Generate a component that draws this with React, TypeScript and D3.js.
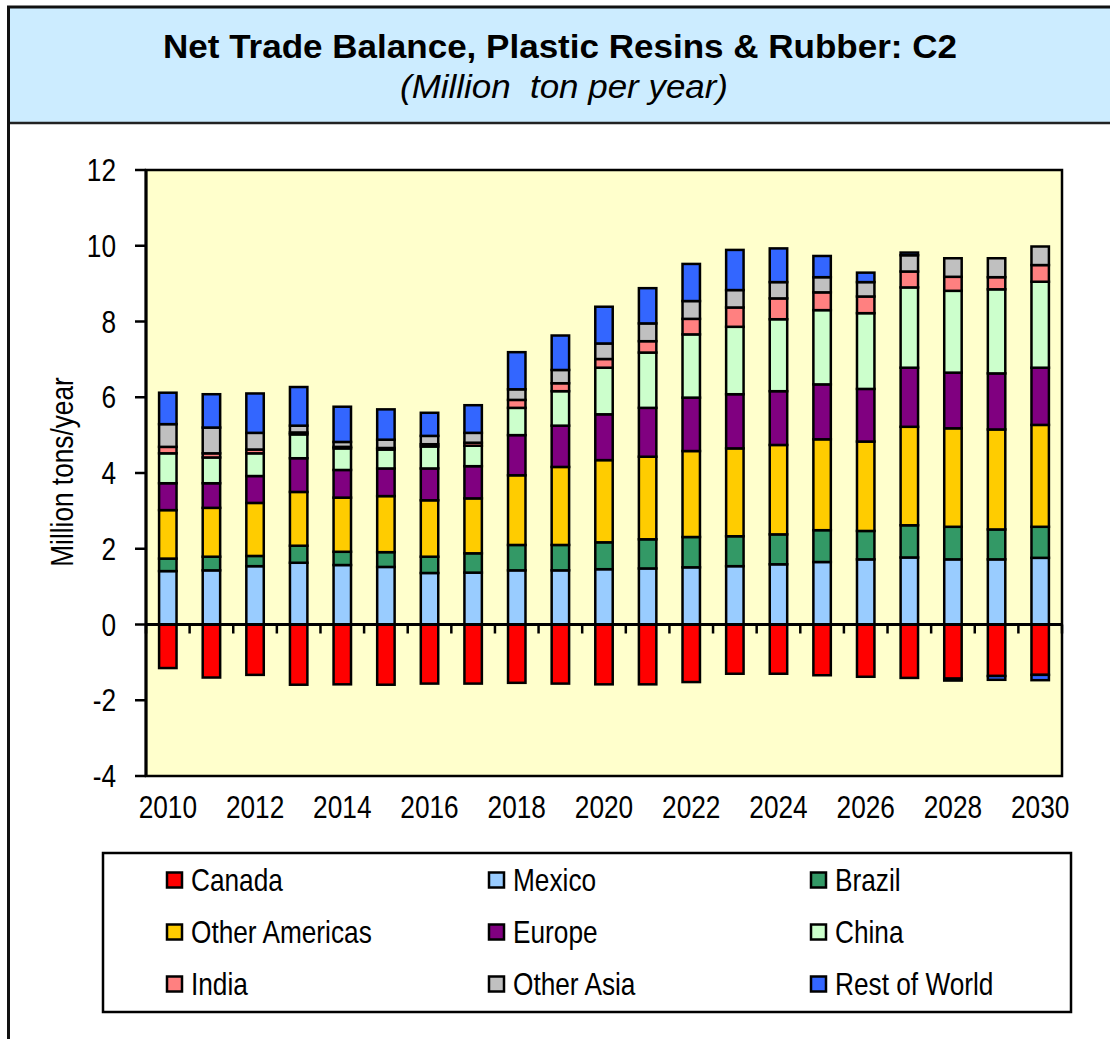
import React from "react";
import * as d3 from "d3";

const years = [2010, 2011, 2012, 2013, 2014, 2015, 2016, 2017, 2018, 2019, 2020, 2021, 2022, 2023, 2024, 2025, 2026, 2027, 2028, 2029, 2030];

const canada = [-1.15, -1.40, -1.33, -1.59, -1.58, -1.59, -1.56, -1.56, -1.54, -1.56, -1.58, -1.58, -1.52, -1.30, -1.30, -1.34, -1.38, -1.41, -1.43, -1.36, -1.33];
const mexico = [1.41, 1.43, 1.54, 1.63, 1.57, 1.52, 1.36, 1.37, 1.43, 1.43, 1.46, 1.48, 1.51, 1.54, 1.59, 1.65, 1.72, 1.77, 1.72, 1.72, 1.76];
const brazil = [0.33, 0.36, 0.27, 0.45, 0.35, 0.39, 0.43, 0.51, 0.67, 0.67, 0.71, 0.77, 0.80, 0.79, 0.79, 0.84, 0.75, 0.85, 0.86, 0.79, 0.82];
const otherAmericas = [1.28, 1.29, 1.40, 1.42, 1.43, 1.48, 1.49, 1.45, 1.84, 2.06, 2.17, 2.18, 2.27, 2.32, 2.36, 2.40, 2.36, 2.60, 2.60, 2.64, 2.69];
const europe = [0.71, 0.65, 0.71, 0.89, 0.73, 0.73, 0.84, 0.85, 1.06, 1.09, 1.21, 1.29, 1.41, 1.43, 1.42, 1.45, 1.39, 1.56, 1.47, 1.48, 1.51];
const china = [0.79, 0.68, 0.60, 0.63, 0.57, 0.50, 0.58, 0.54, 0.72, 0.91, 1.23, 1.46, 1.67, 1.78, 1.90, 1.96, 2.00, 2.12, 2.16, 2.22, 2.27];
const india = [0.17, 0.11, 0.10, 0.05, 0.04, 0.04, 0.06, 0.08, 0.21, 0.21, 0.23, 0.30, 0.41, 0.51, 0.55, 0.47, 0.44, 0.42, 0.37, 0.32, 0.44];
const otherAsia = [0.60, 0.68, 0.44, 0.18, 0.13, 0.22, 0.22, 0.26, 0.28, 0.35, 0.41, 0.47, 0.47, 0.46, 0.43, 0.40, 0.38, 0.43, 0.49, 0.50, 0.49];
const restOfWorld = [0.83, 0.88, 1.04, 1.02, 0.93, 0.80, 0.61, 0.73, 0.98, 0.91, 0.97, 0.93, 0.98, 1.06, 0.89, 0.56, 0.25, 0.07, -0.05, -0.10, -0.14];

const seriesNames = ["Canada", "Mexico", "Brazil", "Other Americas", "Europe", "China", "India", "Other Asia", "Rest of World"];
const seriesColors = ["#FF0000", "#99CCFF", "#339966", "#FFCC00", "#800080", "#CCFFCC", "#FF8080", "#C0C0C0", "#3366FF"];
const seriesValues = [canada, mexico, brazil, otherAmericas, europe, china, india, otherAsia, restOfWorld];

const yTicks = [-4, -2, 0, 2, 4, 6, 8, 10, 12];
const xLabelYears = [2010, 2012, 2014, 2016, 2018, 2020, 2022, 2024, 2026, 2028, 2030];

const FONT = "'Liberation Sans', Arial, sans-serif";
const SX = 0.82;

function NText(props: any) {
  const { x, y, size, anchor = "start", children, ...rest } = props;
  return (
    <text
      transform={`translate(${x},${y}) scale(${SX},1)`}
      fontSize={size}
      textAnchor={anchor}
      fontFamily={FONT}
      fill="#000"
      {...rest}
    >
      {children}
    </text>
  );
}

export default function App() {
  const W = 1110;
  const H = 1039;
  const left = 146, right = 1062, top = 170, bottom = 776;

  const x = d3.scaleBand<number>().domain(years).range([left, right]).paddingInner(0.6).paddingOuter(0.3);
  const y = d3.scaleLinear().domain([-4, 12]).range([bottom, top]);

  const table = years.map((yr, i) => {
    const row: any = { year: yr };
    seriesNames.forEach((n, k) => (row[n] = seriesValues[k][i]));
    return row;
  });
  const stacked = d3.stack<any>().keys(seriesNames).offset(d3.stackOffsetDiverging)(table);

  const step = x.step();
  const boundaries = d3.range(years.length + 1).map((i) => left + i * step);

  const legendCols = [167, 489, 811];
  const legendRows = [880, 932, 984];

  return (
    <svg width={W} height={H} style={{ position: "absolute", left: 0, top: 0 }} xmlns="http://www.w3.org/2000/svg">
      <rect x={0} y={0} width={W} height={H} fill="#fff" />
      {/* frame and header */}
      <rect x={8.5} y={7} width={W} height={116} fill="#CCECFF" />
      <line x1={8.5} y1={123} x2={W} y2={123} stroke="#222" strokeWidth={2.5} />
      <rect x={8.5} y={7} width={W + 20} height={H + 20} fill="none" stroke="#111" strokeWidth={3} />
      <text x={163} y={58} fontSize={33} fontWeight="bold" fontFamily={FONT} textLength={794} lengthAdjust="spacingAndGlyphs">
        Net Trade Balance, Plastic Resins &amp; Rubber: C2
      </text>
      <text x={400} y={98} fontSize={33} fontStyle="italic" fontFamily={FONT} textLength={328} lengthAdjust="spacingAndGlyphs" xmlSpace="preserve">
        (Million  ton per year)
      </text>

      {/* plot area */}
      <rect x={left} y={top} width={right - left} height={bottom - top} fill="#FFFFCC" stroke="#000" strokeWidth={2.5} />

      {/* bars */}
      {stacked.map((s, k) => (
        <g key={seriesNames[k]} fill={seriesColors[k]} stroke="#000" strokeWidth={2.5}>
          {s.map((d, i) => {
            const y0 = y(d[0]);
            const y1 = y(d[1]);
            const h = Math.abs(y0 - y1);
            if (h < 0.01) return null;
            return <rect key={i} x={x(years[i])} y={Math.min(y0, y1)} width={x.bandwidth()} height={h} />;
          })}
        </g>
      ))}

      {/* zero line and category ticks */}
      <line x1={left} x2={right} y1={y(0)} y2={y(0)} stroke="#000" strokeWidth={3} />
      {boundaries.map((bx, i) => (
        <line key={i} x1={bx} x2={bx} y1={y(0)} y2={y(0) + 9} stroke="#000" strokeWidth={2.5} />
      ))}
      {/* left axis */}
      <line x1={left} x2={left} y1={top} y2={bottom} stroke="#000" strokeWidth={3} />
      {yTicks.map((t) => (
        <g key={t}>
          <line x1={135} x2={left} y1={y(t)} y2={y(t)} stroke="#000" strokeWidth={2.5} />
          <NText x={116} y={y(t) + 11} size={32} anchor="end">{t}</NText>
        </g>
      ))}
      {xLabelYears.map((yr) => (
        <NText key={yr} x={(x(yr) as number) + x.bandwidth() / 2} y={818} size={32} anchor="middle">{yr}</NText>
      ))}
      <text
        transform={`translate(73,472) rotate(-90) scale(${SX},1)`}
        fontSize={32}
        textAnchor="middle"
        fontFamily={FONT}
      >
        Million tons/year
      </text>

      {/* legend */}
      <rect x={103} y={853} width={968} height={159} fill="#fff" stroke="#000" strokeWidth={2.5} />
      {seriesNames.map((n, k) => {
        const cx = legendCols[k % 3];
        const cy = legendRows[Math.floor(k / 3)];
        return (
          <g key={n}>
            <rect x={cx} y={cy - 7.5} width={15} height={15} fill={seriesColors[k]} stroke="#000" strokeWidth={2.5} />
            <NText x={cx + 24} y={cy + 11} size={32}>{n}</NText>
          </g>
        );
      })}
    </svg>
  );
}
